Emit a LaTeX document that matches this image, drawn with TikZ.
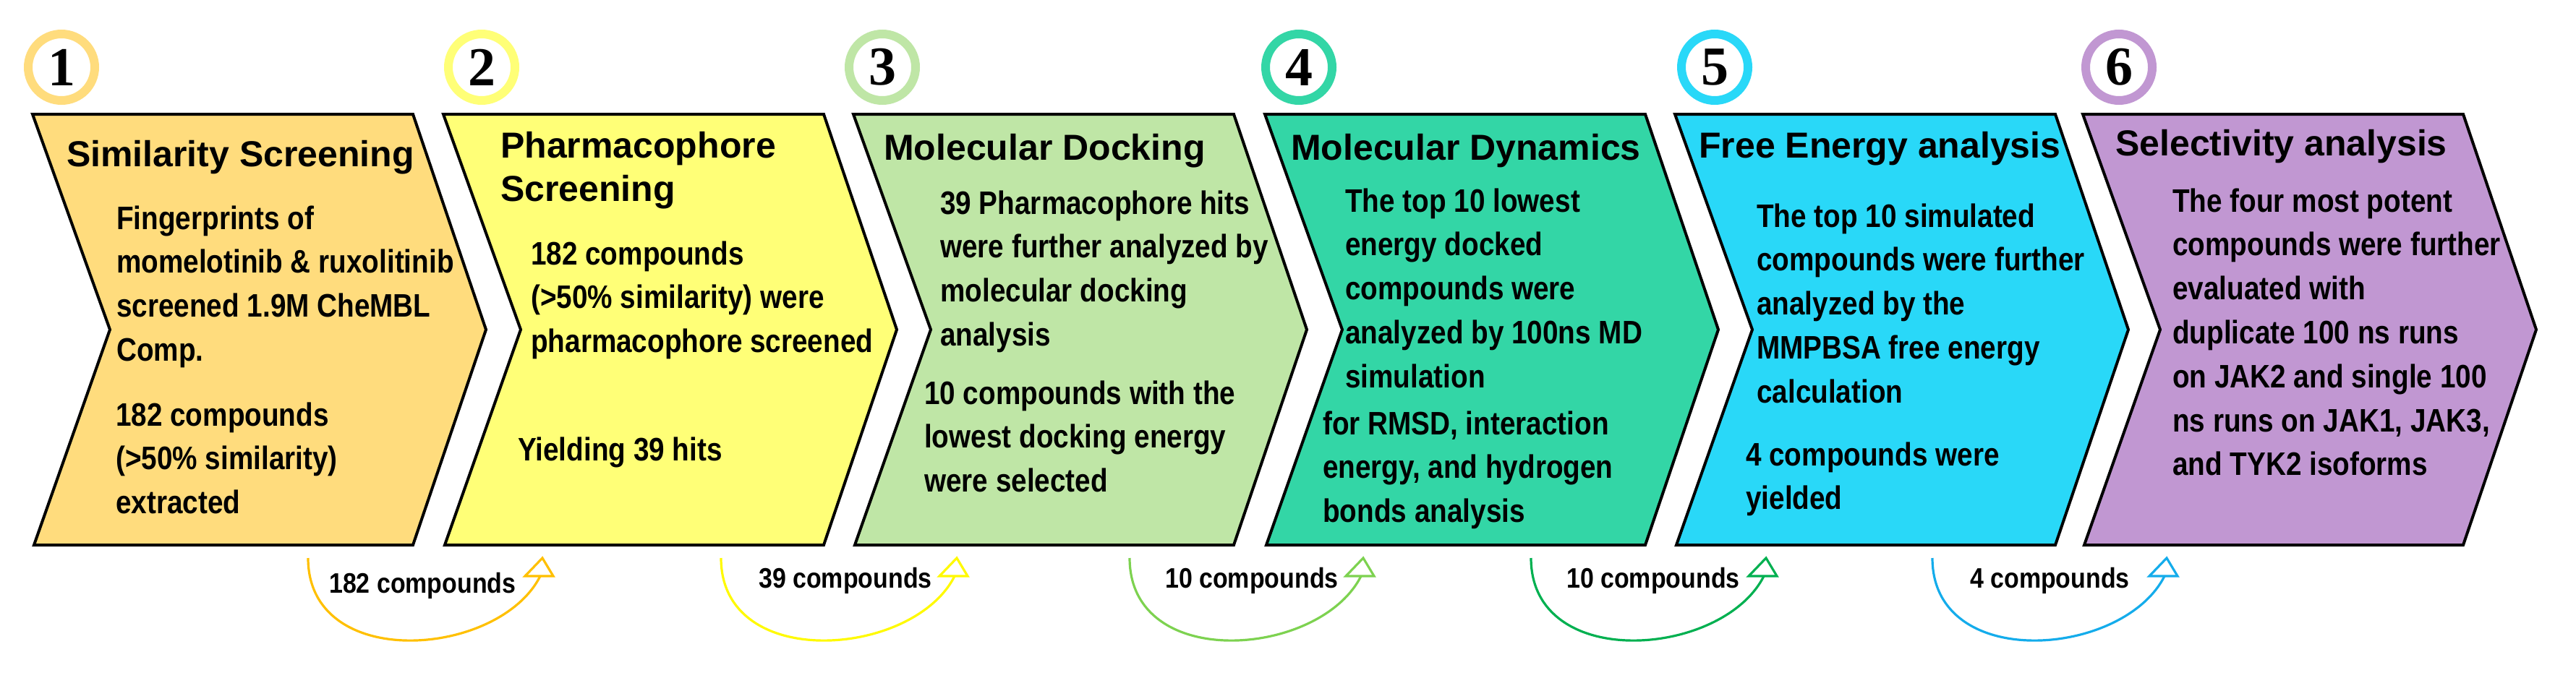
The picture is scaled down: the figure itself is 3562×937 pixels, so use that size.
\documentclass[tikz,border=0pt]{standalone}
\usepackage{fontspec}
\setmainfont{Liberation Sans}
\newfontfamily\titlefont{Liberation Sans}
\newfontfamily\bodyfont{Liberation Sans}[FakeStretch=0.86]
\newfontfamily\labfont{Liberation Sans}[FakeStretch=0.87]
\newfontfamily\numfont{Liberation Serif}
\newcommand\blk[1]{\vtop{\baselineskip=60.8pt\lineskiplimit=-200pt\lineskip=0pt\halign{##\hfil\cr#1\crcr}}}
\definecolor{f1}{RGB}{255,220,125}
\definecolor{f2}{RGB}{255,255,119}
\definecolor{f3}{RGB}{191,230,166}
\definecolor{f4}{RGB}{51,214,166}
\definecolor{f5}{RGB}{41,216,248}
\definecolor{f6}{RGB}{193,151,210}
\definecolor{a1}{RGB}{255,192,0}
\definecolor{a2}{RGB}{255,250,0}
\definecolor{a3}{RGB}{125,210,80}
\definecolor{a4}{RGB}{0,176,80}
\definecolor{a5}{RGB}{20,172,235}
\tikzset{
 chevbox/.style={draw=black, line width=4pt, line join=miter},
 ttl/.style={font=\titlefont\bfseries\fontsize{50}{60}\selectfont, inner sep=0pt, anchor=base west},
 bdy/.style={font=\bodyfont\bfseries\fontsize{45}{60}\selectfont, inner sep=0pt, anchor=base west},
 lab/.style={font=\labfont\bfseries\fontsize{39}{45}\selectfont, inner sep=0pt, anchor=base west},
 num/.style={font=\numfont\bfseries\fontsize{76}{80}\selectfont, inner sep=0pt},
 ring/.style={line width=12pt},
 flow/.style={line width=3.2pt},
 flowhead/.style={line width=3.2pt, line join=miter},
}
\begin{document}
\begin{tikzpicture}[x=1pt,y=-1pt]
\useasboundingbox (0,0) rectangle (3562,937);
\fill[white] (0,0) rectangle (3562,937);
% chevrons
\foreach \L/\c in {45/f1,613/f2,1180/f3,1749/f4,2316/f5,2880/f6}{
  \draw[chevbox, fill=\c] (\L,158) -- ++(526,0) -- ++(101,298) -- ++(-101,298) -- ++(-524,0) -- ++(105,-298) -- cycle;
}
% number rings
\foreach \x/\c/\n in {85/f1/1,666/f2/2,1220/f3/3,1796/f4/4,2371/f5/5,2930/f6/6}{
  \draw[ring, draw=\c] (\x,93) circle[radius=46];
  \node[num] (num\n) at (\x,93) {\n};
}
% chevron 1
\node[ttl] (t1) at (92,230) {Similarity Screening};
\node[bdy] (b1a) at (161,317) {\blk{Fingerprints of\cr momelotinib \& ruxolitinib\cr screened 1.9M CheMBL\cr Comp.}};
\node[bdy] (b1b) at (160,589) {\blk{182 compounds\cr (>50\% similarity)\cr extracted}};
% chevron 2
\node[ttl] (t2) at (692,218) {\blk{Pharmacophore\cr Screening}};
\node[bdy] (b2a) at (734,366) {\blk{182 compounds\cr (>50\% similarity) were\cr pharmacophore screened}};
\node[bdy] (b2b) at (716,637) {Yielding 39 hits};
% chevron 3
\node[ttl] (t3) at (1222,221) {Molecular Docking};
\node[bdy] (b3a) at (1300,296) {\blk{39 Pharmacophore hits\cr were further analyzed by\cr molecular docking\cr analysis}};
\node[bdy] (b3b) at (1278,559) {\blk{10 compounds with the\cr lowest docking energy\cr were selected}};
% chevron 4
\node[ttl] (t4) at (1785,221) {Molecular Dynamics};
\node[bdy] (b4a) at (1860,293) {\blk{The top 10 lowest\cr energy docked\cr compounds were\cr analyzed by 100ns MD\cr simulation}};
\node[bdy] (b4b) at (1829,601) {\blk{for RMSD, interaction\cr energy, and hydrogen\cr bonds analysis}};
% chevron 5
\node[ttl] (t5) at (2349,218) {Free Energy analysis};
\node[bdy] (b5a) at (2429,314) {\blk{The top 10 simulated\cr compounds were further\cr analyzed by the\cr MMPBSA free energy\cr calculation}};
\node[bdy] (b5b) at (2414,644) {\blk{4 compounds were\cr yielded}};
% chevron 6
\node[ttl] (t6) at (2925,215) {Selectivity analysis};
\node[bdy] (b6a) at (3004,293) {\blk{The four most potent\cr compounds were further\cr evaluated with\cr duplicate 100 ns runs\cr on JAK2 and single 100\cr ns runs on JAK1, JAK3,\cr and TYK2 isoforms}};
% flow arcs
\foreach \i/\s/\e/\c in {1/426/747/a1,2/997/1320/a2,3/1562/1882/a3,4/2117/2439/a4,5/2672/2993/a5}{
  \coordinate (s\i) at (\s,772);
  \coordinate (e\i) at (\e,797);
  \draw[flow, draw=\c] (s\i) .. controls +(0,158) and +(-57,113) .. (e\i);
  \draw[flowhead, draw=\c] (e\i) ++(-21,0) -- ++(24,-25) -- ++(15,25) -- cycle;
}
\node[lab] (l1) at (455,820) {182 compounds};
\node[lab] (l2) at (1049,813) {39 compounds};
\node[lab] (l3) at (1611,813) {10 compounds};
\node[lab] (l4) at (2166,813) {10 compounds};
\node[lab] (l5) at (2724,813) {4 compounds};
\end{tikzpicture}
\end{document}
